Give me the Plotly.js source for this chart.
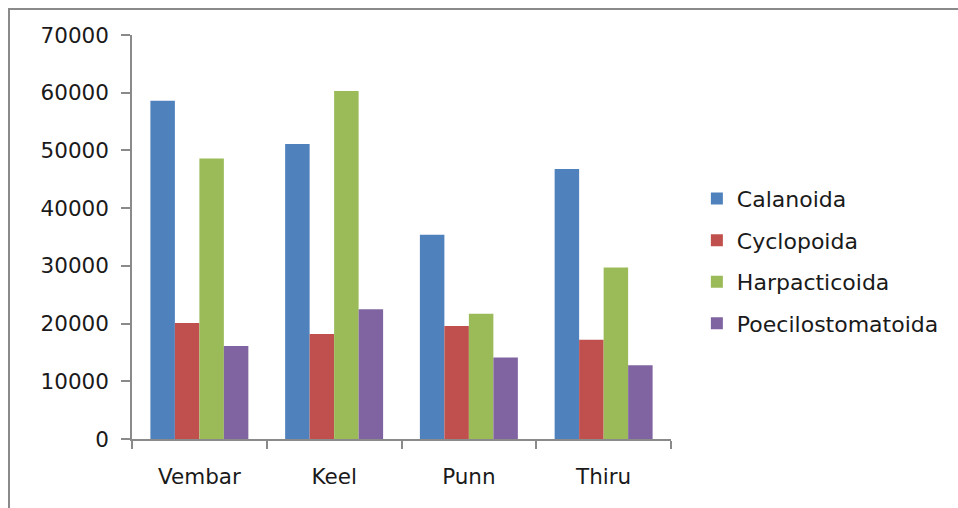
<!DOCTYPE html>
<html>
<head>
<meta charset="utf-8">
<script src="https://cdn.plot.ly/plotly-3.0.1.min.js"></script>
<style>
  html, body { margin: 0; padding: 0; background: #fff; }
  #frame { position: absolute; left: 8px; top: 8px; width: 1000px; height: 600px;
           border-left: 2px solid #8a8a8a; border-top: 2px solid #8a8a8a; }
  #chart { position: absolute; left: 0; top: 0; width: 958px; height: 508px; }
</style>
</head>
<body>
<div id="frame"></div>
<div id="chart"></div>
<script>
const sites = ["Vembar", "Keel", "Punn", "Thiru"];
const seriesNames = ["Calanoida", "Cyclopoida", "Harpacticoida", "Poecilostomatoida"];
const calanoida = [58600, 51100, 35400, 46800];
const cyclopoida = [20100, 18200, 19600, 17200];
const harpacticoida = [48600, 60300, 21700, 29700];
const poecilostomatoida = [16100, 22500, 14100, 12800];
const yTicks = [0, 10000, 20000, 30000, 40000, 50000, 60000, 70000];
const colors = ["#4F81BD", "#C0504D", "#9BBB59", "#8064A2"];

const allValues = [calanoida, cyclopoida, harpacticoida, poecilostomatoida];
const traces = allValues.map((vals, i) => ({
  type: "bar",
  name: seriesNames[i],
  x: sites,
  y: vals,
  legendgroup: "g" + i,
  marker: { color: colors[i], line: { width: 0 } },
  hoverinfo: "x+y+name"
}));

const font = { family: "DejaVu Sans, sans-serif", size: 21.5, color: "#1a1a1a" };
const legendFont = { family: "DejaVu Sans, sans-serif", size: 22, color: "#1a1a1a" };

const layout = {
  width: 958,
  height: 508,
  paper_bgcolor: "rgba(0,0,0,0)",
  plot_bgcolor: "rgba(0,0,0,0)",
  margin: { l: 132, r: 287, t: 35, b: 69, pad: 0 },
  font: font,
  barmode: "group",
  bargap: 0.273,
  bargroupgap: 0,
  showlegend: true,
  legend: {
    x: 1.048, xanchor: "left",
    y: 0.44, yanchor: "middle",
    font: legendFont,
    tracegroupgap: 10,
    itemwidth: 30,
    bgcolor: "rgba(0,0,0,0)"
  },
  xaxis: {
    type: "category",
    showline: true,
    linecolor: "#8a8a8a",
    linewidth: 1.5,
    ticks: "outside",
    tickson: "boundaries",
    ticklen: 8,
    tickcolor: "#8a8a8a",
    tickwidth: 1.5,
    showgrid: false,
    zeroline: false,
    ticklabelstandoff: 17,
    tickfont: font
  },
  yaxis: {
    range: [0, 70000],
    tickvals: yTicks,
    tickformat: "d",
    showline: true,
    linecolor: "#8a8a8a",
    linewidth: 1.5,
    ticks: "outside",
    ticklen: 9,
    tickcolor: "#8a8a8a",
    tickwidth: 1.5,
    showgrid: false,
    zeroline: false,
    ticklabelstandoff: 8,
    tickfont: font
  }
};

Plotly.newPlot("chart", traces, layout, { displayModeBar: false, responsive: false });
</script>
</body>
</html>
